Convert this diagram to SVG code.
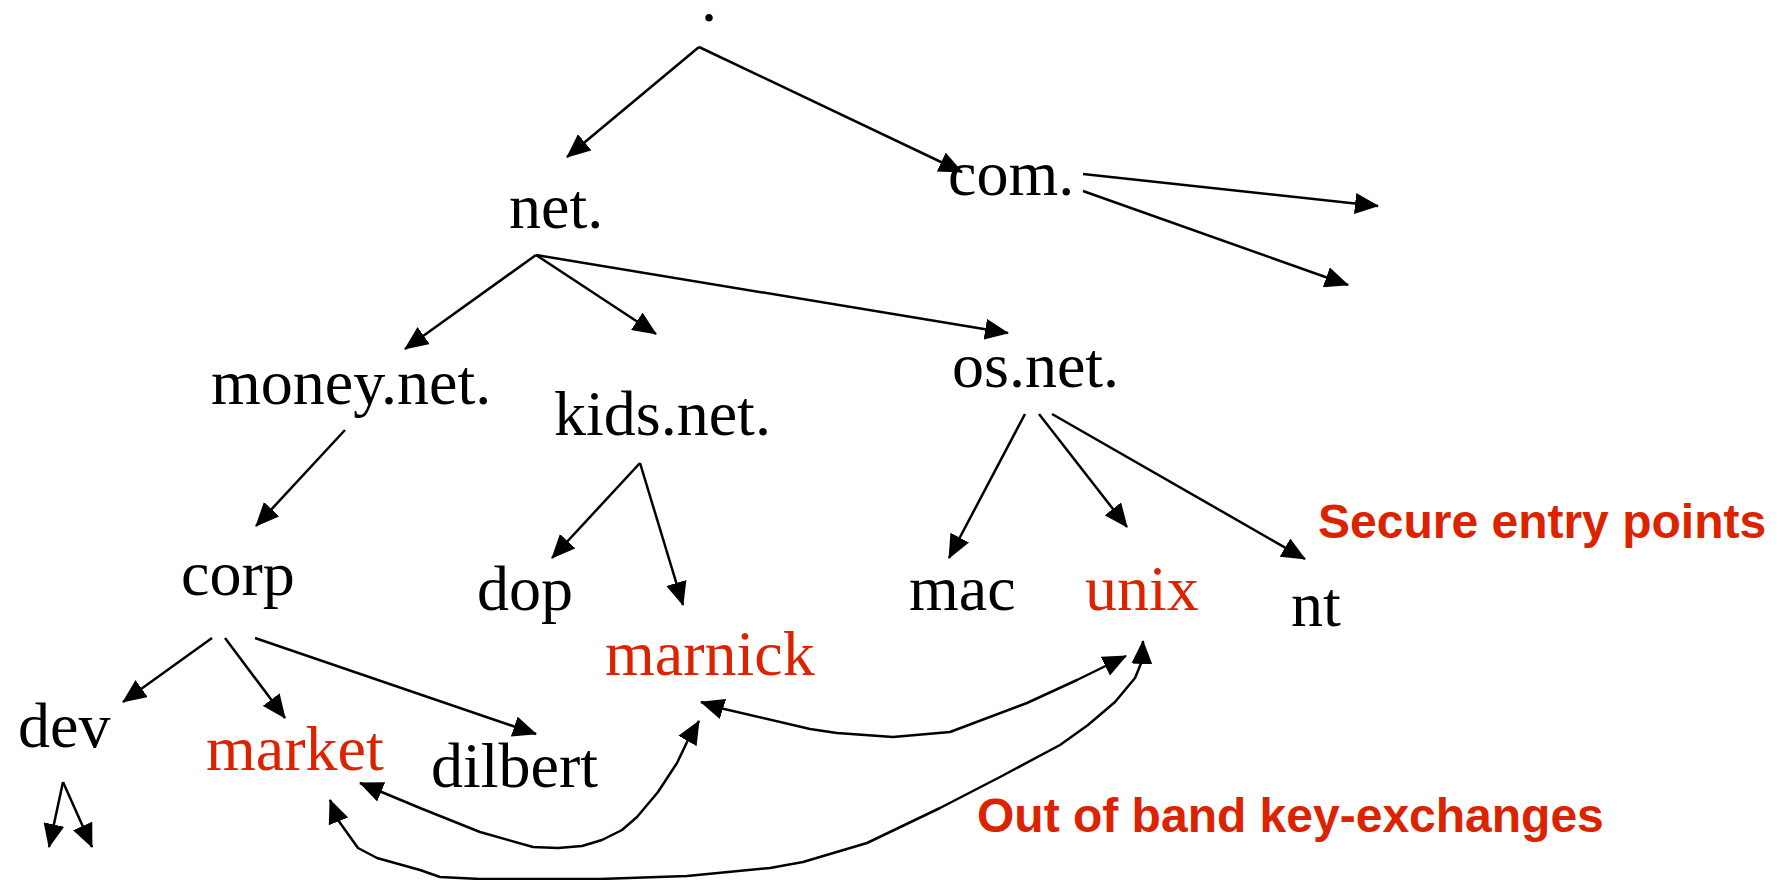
<svg xmlns="http://www.w3.org/2000/svg" width="1787" height="880" viewBox="0 0 1787 880">
  <style>
    .lbl { font-family: "Liberation Serif", "Times New Roman", serif; font-size: 64px; fill: #000; }
    .sec { fill: #dc2300; }
    .note { font-family: "Liberation Sans", Arial, sans-serif; font-weight: bold; font-size: 48px; fill: #dc2300; }
    .edge { fill: none; stroke: #000; stroke-width: 2.5; stroke-linejoin: round; }
  </style>
  <defs>
    <marker id="head" markerUnits="userSpaceOnUse" markerWidth="24" markerHeight="21" refX="23" refY="10.5" orient="auto-start-reverse">
      <path d="M0,0 L24,10.5 L0,21 z" fill="#000"/>
    </marker>
  </defs>

  <rect width="1787" height="880" fill="#fff"/>

  <!-- DNS tree nodes -->
  <g id="root"><text class="lbl" x="701" y="21">.</text></g>
  <g id="net"><text class="lbl" x="509" y="228">net.</text></g>
  <g id="com"><text class="lbl" x="948" y="195">com.</text></g>
  <g id="money-net"><text class="lbl" x="211" y="404">money.net.</text></g>
  <g id="kids-net"><text class="lbl" x="554" y="435">kids.net.</text></g>
  <g id="os-net"><text class="lbl" x="952" y="387">os.net.</text></g>
  <g id="corp"><text class="lbl" x="181" y="595">corp</text></g>
  <g id="dop"><text class="lbl" x="477" y="610">dop</text></g>
  <g id="mac"><text class="lbl" x="909" y="610">mac</text></g>
  <g id="unix"><text class="lbl sec" x="1085" y="610">unix</text></g>
  <g id="nt"><text class="lbl" x="1291" y="626">nt</text></g>
  <g id="marnick"><text class="lbl sec" x="605" y="675">marnick</text></g>
  <g id="dev"><text class="lbl" x="18" y="747">dev</text></g>
  <g id="market"><text class="lbl sec" x="206" y="770">market</text></g>
  <g id="dilbert"><text class="lbl" x="431" y="787">dilbert</text></g>

  <!-- annotations -->
  <g id="note-secure"><text class="note" x="1318" y="538">Secure entry points</text></g>
  <g id="note-oob"><text class="note" x="977" y="832">Out of band key-exchanges</text></g>

  <!-- delegation arrows and key-exchange links -->
  <g id="connectors">
    <line class="edge" x1="699" y1="47" x2="567" y2="157" marker-end="url(#head)"/>
    <line class="edge" x1="699" y1="47" x2="962" y2="172" marker-end="url(#head)"/>
    <line class="edge" x1="1083" y1="174" x2="1378" y2="206" marker-end="url(#head)"/>
    <line class="edge" x1="1083" y1="191" x2="1348" y2="285" marker-end="url(#head)"/>
    <line class="edge" x1="536" y1="255" x2="405" y2="349" marker-end="url(#head)"/>
    <line class="edge" x1="536" y1="255" x2="656" y2="334" marker-end="url(#head)"/>
    <line class="edge" x1="536" y1="255" x2="1008" y2="333" marker-end="url(#head)"/>
    <line class="edge" x1="345" y1="430" x2="256" y2="526" marker-end="url(#head)"/>
    <line class="edge" x1="640" y1="463" x2="552" y2="558" marker-end="url(#head)"/>
    <line class="edge" x1="640" y1="463" x2="683" y2="605" marker-end="url(#head)"/>
    <line class="edge" x1="1025" y1="414" x2="949" y2="558" marker-end="url(#head)"/>
    <line class="edge" x1="1039" y1="414" x2="1127" y2="527" marker-end="url(#head)"/>
    <line class="edge" x1="1052" y1="414" x2="1305" y2="559" marker-end="url(#head)"/>
    <line class="edge" x1="212" y1="638" x2="123" y2="702" marker-end="url(#head)"/>
    <line class="edge" x1="225" y1="638" x2="285" y2="718" marker-end="url(#head)"/>
    <line class="edge" x1="255" y1="638" x2="536" y2="734" marker-end="url(#head)"/>
    <line class="edge" x1="63" y1="782" x2="49" y2="847" marker-end="url(#head)"/>
    <line class="edge" x1="63" y1="782" x2="92" y2="847" marker-end="url(#head)"/>

    <!-- marnick <-> unix -->
    <polyline class="edge" marker-start="url(#head)" marker-end="url(#head)"
      points="701,702 720,708 810,729 837,733 893,737 950,732 1027,703 1077,680 1126,656"/>
    <!-- market <-> marnick -->
    <polyline class="edge" marker-start="url(#head)" marker-end="url(#head)"
      points="360,783 420,808 480,832 533,847 558,848 582,846 602,840 622,830 637,817 658,792 677,763 688,740 699,721"/>
    <!-- market <-> unix -->
    <polyline class="edge" marker-start="url(#head)" marker-end="url(#head)"
      points="330,800 338,820 358,848 377,858 420,870 440,877 480,879 600,879 687,876 770,868 803,862 867,843 940,808 1000,777 1060,745 1088,725 1115,702 1135,678 1142,661 1143,641"/>
  </g>
</svg>
